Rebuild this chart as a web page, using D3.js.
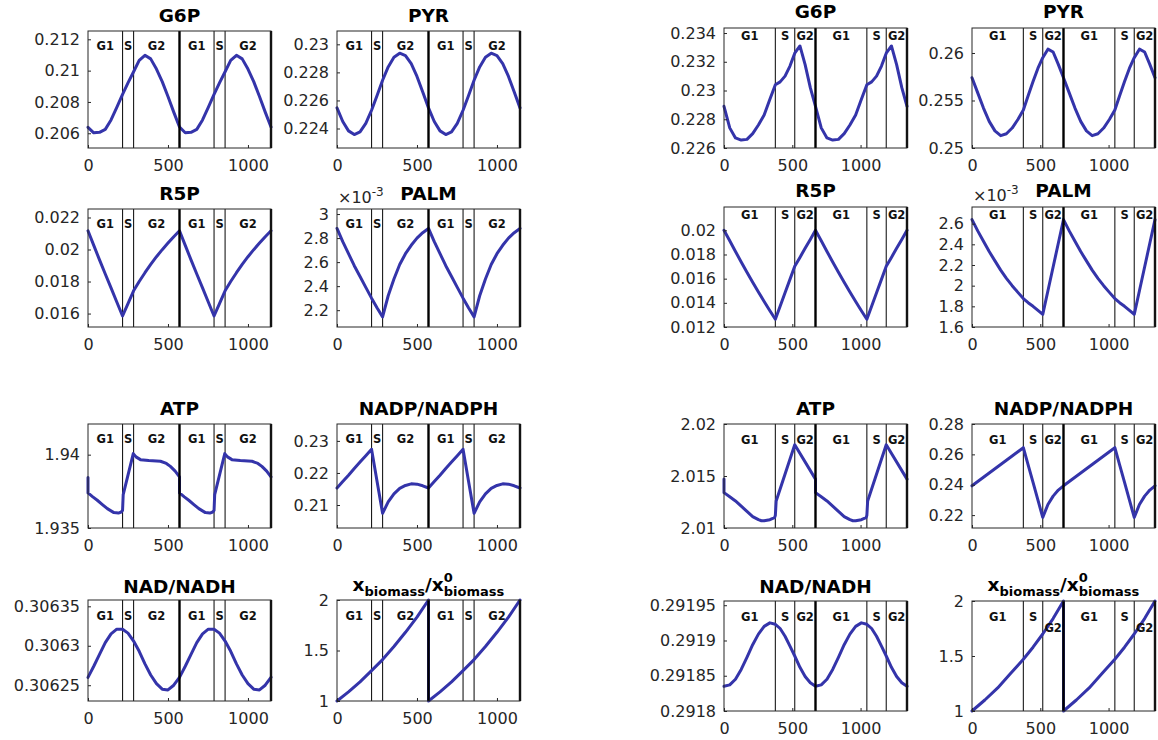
<!DOCTYPE html>
<html><head><meta charset="utf-8">
<script src="https://cdn.jsdelivr.net/npm/d3@7"></script>
<style>body{margin:0;background:#fff}svg{display:block}</style>
</head><body>
<svg id="chart" width="1158" height="740"></svg>
<script>
// ================= DATA =================
const xTicks = [0, 500, 1000];
const leftXMax = 1144, rightXMax = 1340;
const leftPhaseBounds = [0, 216, 285, 572, 788, 857, 1144];
const rightPhaseBounds = [0, 376, 518, 670, 1046, 1188, 1340];
const phaseLabels = ["G1", "S", "G2", "G1", "S", "G2"];
const leftCycleEnds = [572, 1144];
const rightCycleEnds = [670, 1340];

const tLeft = [0,36,72,108,144,180,216,250,285,320,356,392,428,464,500,536,572,608,644,680,716,752,788,822,857,892,928,964,1000,1036,1072,1108,1144];
const tRight = [0,42,84,126,168,210,252,294,336,376,411,447,483,518,556,594,632,670,712,754,796,838,880,922,964,1006,1046,1081,1117,1153,1188,1226,1264,1302,1340];

// left figure
const g6pL = [0.20638,0.20603,0.20606,0.20625,0.20685,0.20765,0.20849,0.20922,0.20993,0.21065,0.21098,0.21075,0.21010,0.20930,0.20835,0.20735,0.20640,
              0.20603,0.20606,0.20625,0.20685,0.20765,0.20849,0.20922,0.20993,0.21065,0.21098,0.21075,0.21010,0.20930,0.20835,0.20735,0.20640];
const pyrL = [0.22547,0.22450,0.22383,0.22357,0.22376,0.22436,0.22530,0.22634,0.22744,0.22839,0.22908,0.22937,0.22920,0.22862,0.22771,0.22660,0.22547,
              0.22450,0.22383,0.22357,0.22376,0.22436,0.22530,0.22634,0.22744,0.22839,0.22908,0.22937,0.22920,0.22862,0.22771,0.22660,0.22547];
const r5pL = [0.02117,0.02026,0.01935,0.01847,0.01760,0.01672,0.01585,0.01662,0.01742,0.01800,0.01855,0.01907,0.01955,0.01999,0.02040,0.02080,0.02117,
              0.02026,0.01935,0.01847,0.01760,0.01672,0.01585,0.01662,0.01742,0.01800,0.01855,0.01907,0.01955,0.01999,0.02040,0.02080,0.02117];
const palmL = [2.88,2.77,2.67,2.57,2.48,2.39,2.30,2.22,2.144,2.32,2.46,2.58,2.67,2.74,2.80,2.845,2.88,
               2.77,2.67,2.57,2.48,2.39,2.30,2.22,2.144,2.32,2.46,2.58,2.67,2.74,2.80,2.845,2.88]; // x10^-3
const atpLt = [0,0,30,58,90,121,162,190,208,216,220,283,300,328,380,453,490,515,545,572,
               572,602,630,662,693,734,762,780,788,792,855,872,900,952,1025,1062,1087,1117,1144];
const atpL = [1.93845,1.93739,1.93712,1.93689,1.93660,1.93632,1.93605,1.93602,1.93609,1.93620,1.93727,1.94007,1.93985,1.93966,1.93960,1.93955,1.93940,1.93920,1.93888,1.93849,
              1.93739,1.93712,1.93689,1.93660,1.93632,1.93605,1.93602,1.93609,1.93620,1.93727,1.94007,1.93985,1.93966,1.93960,1.93955,1.93940,1.93920,1.93888,1.93849];
const nadpL = [0.2153,0.2173,0.2193,0.2214,0.2234,0.2254,0.2274,0.2175,0.2074,0.2110,0.2135,0.2152,0.2161,0.2166,0.2165,0.2160,0.2153,
               0.2173,0.2193,0.2214,0.2234,0.2254,0.2274,0.2175,0.2074,0.2110,0.2135,0.2152,0.2161,0.2166,0.2165,0.2160,0.2153];
const nadL = [0.306260,0.306274,0.306289,0.306304,0.306315,0.306321,0.306321,0.306316,0.306306,0.306293,0.306277,0.306263,0.306252,0.306245,0.306244,0.306250,0.306260,
              0.306274,0.306289,0.306304,0.306315,0.306321,0.306321,0.306316,0.306306,0.306293,0.306277,0.306263,0.306252,0.306245,0.306244,0.306250,0.306260];
const bioLt = [0,72,144,216,285,356,428,500,572,572,644,716,788,857,928,1000,1072,1144];
const bioL = [1,1.09,1.19,1.30,1.41,1.54,1.68,1.83,2,1,1.09,1.19,1.30,1.41,1.54,1.68,1.83,2];

// right figure
const g6pR = [0.2289,0.2274,0.2267,0.22655,0.2266,0.2270,0.2276,0.2283,0.2294,0.2304,0.2306,0.2310,0.2317,0.2326,0.2331,0.2318,0.2302,0.2289,
              0.2274,0.2267,0.22655,0.2266,0.2270,0.2276,0.2283,0.2294,0.2304,0.2306,0.2310,0.2317,0.2326,0.2331,0.2318,0.2302,0.2289];
const pyrR = [0.2574,0.2558,0.2542,0.2528,0.2518,0.2513,0.2515,0.2521,0.2530,0.2540,0.2555,0.2570,0.2584,0.2595,0.2604,0.2601,0.2588,0.2574,
              0.2558,0.2542,0.2528,0.2518,0.2513,0.2515,0.2521,0.2530,0.2540,0.2555,0.2570,0.2584,0.2595,0.2604,0.2601,0.2588,0.2574];
const r5pR = [0.0200,0.01914,0.01825,0.01738,0.01653,0.01570,0.01489,0.01411,0.01335,0.01264,0.01372,0.01483,0.01594,0.01702,0.01776,0.01851,0.01925,0.0200,
              0.01914,0.01825,0.01738,0.01653,0.01570,0.01489,0.01411,0.01335,0.01264,0.01372,0.01483,0.01594,0.01702,0.01776,0.01851,0.01925,0.0200];
const palmR = [2.639,2.53,2.43,2.33,2.24,2.15,2.07,2.00,1.935,1.875,1.835,1.80,1.76,1.722,1.951,2.180,2.410,2.639,
               2.53,2.43,2.33,2.24,2.15,2.07,2.00,1.935,1.875,1.835,1.80,1.76,1.722,1.951,2.180,2.410,2.639]; // x10^-3
const atpRt = [0,0,42,84,126,168,210,252,274,294,336,370,376,382,518,670,
               670,712,754,796,838,880,922,944,964,1006,1040,1046,1052,1188,1340];
const atpR = [2.0147,2.0134,2.0130,2.0126,2.0121,2.0116,2.0111,2.0108,2.0107,2.0107,2.0108,2.0110,2.0112,2.0126,2.0180,2.0147,
              2.0134,2.0130,2.0126,2.0121,2.0116,2.0111,2.0108,2.0107,2.0107,2.0108,2.0110,2.0112,2.0126,2.0180,2.0147];
const nadpR = [0.2393,0.2421,0.2449,0.2477,0.2505,0.2533,0.2561,0.2589,0.2617,0.2644,0.2531,0.2415,0.2298,0.2185,0.2270,0.2325,0.2365,0.2393,
               0.2421,0.2449,0.2477,0.2505,0.2533,0.2561,0.2589,0.2617,0.2644,0.2531,0.2415,0.2298,0.2185,0.2270,0.2325,0.2365,0.2393];
const nadR = [0.291835,0.291837,0.291845,0.291859,0.291876,0.291894,0.291909,0.291920,0.291925,0.291923,0.291917,0.291906,0.291892,0.291878,0.291862,0.291849,0.291840,0.291835,
              0.291837,0.291845,0.291859,0.291876,0.291894,0.291909,0.291920,0.291925,0.291923,0.291917,0.291906,0.291892,0.291878,0.291862,0.291849,0.291840,0.291835];
const bioRt = [0,94,188,282,376,447,518,594,670,670,764,858,952,1046,1117,1188,1264,1340];
const bioR = [1,1.10,1.21,1.34,1.47,1.58,1.70,1.84,2,1,1.10,1.21,1.34,1.47,1.58,1.70,1.84,2];

// y axis domains and ticks
const yDomains = {
  g6pL:[0.20506,0.21253], pyrL:[0.22261,0.23095], r5pL:[0.01516,0.02253], palmL:[2.060,3.042],
  atpL:[1.935,1.94209], nadpL:[0.20283,0.23527], nadL:[0.30623,0.306358], bioL:[1,2],
  g6pR:[0.226,0.23435], pyrR:[0.25,0.26263], r5pR:[0.012,0.02193], palmR:[1.6,2.761],
  atpR:[2.01,2.02], nadpR:[0.2115,0.28], nadR:[0.2918,0.291956], bioR:[1,2]
};
const yTicks = {
  g6pL:[0.206,0.208,0.21,0.212], pyrL:[0.224,0.226,0.228,0.23], r5pL:[0.016,0.018,0.02,0.022], palmL:[2.2,2.4,2.6,2.8,3],
  atpL:[1.935,1.94], nadpL:[0.21,0.22,0.23], nadL:[0.30625,0.3063,0.30635], bioL:[1,1.5,2],
  g6pR:[0.226,0.228,0.23,0.232,0.234], pyrR:[0.25,0.255,0.26], r5pR:[0.012,0.014,0.016,0.018,0.02], palmR:[1.6,1.8,2,2.2,2.4,2.6],
  atpR:[2.01,2.015,2.02], nadpR:[0.22,0.24,0.26,0.28], nadR:[0.2918,0.29185,0.2919,0.29195], bioR:[1,1.5,2]
};

// ================= LAYOUT / STYLE =================
const FONT = "DejaVu Sans, Verdana, sans-serif";
const BLUE = "#3434aa";
const AX = "#262626";
const colsL = [{x0:88,x1:271},{x0:337,x1:520}];
const colsR = [{x0:724,x1:907},{x0:972,x1:1155}];
const rowsL = [{y0:31,y1:148,tb:22,ld:18.5},{y0:209,y1:327,tb:200,ld:19},{y0:424,y1:528,tb:415,ld:19},{y0:600,y1:701,tb:593,ld:19.5}];
const rowsR = [{y0:28,y1:148,tb:18,ld:11.5},{y0:207,y1:327,tb:197,ld:11.5},{y0:424,y1:528,tb:415,ld:20},{y0:601,y1:711,tb:593,ld:20}];

const zip = (t, v) => t.map((d, i) => [d, v[i]]);
const panels = [
  {key:"g6pL", title:"G6P", side:"L", r:0, c:0, pts:zip(tLeft,g6pL)},
  {key:"pyrL", title:"PYR", side:"L", r:0, c:1, pts:zip(tLeft,pyrL)},
  {key:"r5pL", title:"R5P", side:"L", r:1, c:0, pts:zip(tLeft,r5pL)},
  {key:"palmL", title:"PALM", side:"L", r:1, c:1, pts:zip(tLeft,palmL), exp:true},
  {key:"atpL", title:"ATP", side:"L", r:2, c:0, pts:zip(atpLt,atpL)},
  {key:"nadpL", title:"NADP/NADPH", side:"L", r:2, c:1, pts:zip(tLeft,nadpL)},
  {key:"nadL", title:"NAD/NADH", side:"L", r:3, c:0, pts:zip(tLeft,nadL)},
  {key:"bioL", title:"BIO", side:"L", r:3, c:1, pts:zip(bioLt,bioL)},
  {key:"g6pR", title:"G6P", side:"R", r:0, c:0, pts:zip(tRight,g6pR)},
  {key:"pyrR", title:"PYR", side:"R", r:0, c:1, pts:zip(tRight,pyrR)},
  {key:"r5pR", title:"R5P", side:"R", r:1, c:0, pts:zip(tRight,r5pR)},
  {key:"palmR", title:"PALM", side:"R", r:1, c:1, pts:zip(tRight,palmR), exp:true},
  {key:"atpR", title:"ATP", side:"R", r:2, c:0, pts:zip(atpRt,atpR)},
  {key:"nadpR", title:"NADP/NADPH", side:"R", r:2, c:1, pts:zip(tRight,nadpR)},
  {key:"nadR", title:"NAD/NADH", side:"R", r:3, c:0, pts:zip(tRight,nadR)},
  {key:"bioR", title:"BIO", side:"R", r:3, c:1, pts:zip(bioRt,bioR), g2Low:true}
];

const svg = d3.select("#chart");
svg.append("rect").attr("width",1158).attr("height",740).attr("fill","#fff");

panels.forEach(p => {
  const L = p.side === "L";
  const col = (L ? colsL : colsR)[p.c];
  const row = (L ? rowsL : rowsR)[p.r];
  const xMax = L ? leftXMax : rightXMax;
  const bounds = L ? leftPhaseBounds : rightPhaseBounds;
  const cyc = L ? leftCycleEnds : rightCycleEnds;
  const x = d3.scaleLinear().domain([0, xMax]).range([col.x0, col.x1]);
  const y = d3.scaleLinear().domain(yDomains[p.key]).range([row.y1, row.y0]);
  const g = svg.append("g");

  bounds.slice(1, -1).filter(b => !cyc.includes(b)).forEach(b => {
    g.append("line").attr("x1", x(b)).attr("x2", x(b)).attr("y1", row.y0).attr("y2", row.y1)
      .attr("stroke", "#1a1a1a").attr("stroke-width", 1.1);
  });
  g.append("path").datum(p.pts)
    .attr("d", d3.line().x(d => x(d[0])).y(d => y(d[1])))
    .attr("fill", "none").attr("stroke", BLUE).attr("stroke-width", 3)
    .attr("stroke-linejoin", "round").attr("stroke-linecap", "round");
  cyc.forEach(b => {
    g.append("line").attr("x1", x(b)).attr("x2", x(b)).attr("y1", row.y0).attr("y2", row.y1)
      .attr("stroke", "#000").attr("stroke-width", 2.4);
  });
  g.append("rect").attr("x", col.x0).attr("y", row.y0).attr("width", col.x1 - col.x0).attr("height", row.y1 - row.y0)
    .attr("fill", "none").attr("stroke", AX).attr("stroke-width", 1);

  const ya = g.append("g").attr("transform", `translate(${col.x0},0)`)
    .call(d3.axisLeft(y).tickValues(yTicks[p.key]).tickFormat(d3.format("~g")).tickSizeInner(-3).tickSizeOuter(0).tickPadding(8));
  const xa = g.append("g").attr("transform", `translate(0,${row.y1})`)
    .call(d3.axisBottom(x).tickValues(xTicks).tickFormat(d3.format("d")).tickSizeInner(-3).tickSizeOuter(0).tickPadding(11.5));
  [ya, xa].forEach(a => {
    a.select(".domain").remove();
    a.attr("font-family", FONT).attr("font-size", 16);
    a.selectAll("text").attr("fill", AX);
    a.selectAll("line").attr("stroke", AX);
  });

  for (let i = 0; i < bounds.length - 1; i++) {
    const lab = phaseLabels[i];
    const dy = (p.g2Low && lab === "G2") ? 31 : row.ld;
    g.append("text").attr("x", x((bounds[i] + bounds[i + 1]) / 2)).attr("y", row.y0 + dy)
      .attr("text-anchor", "middle").attr("font-family", FONT).attr("font-weight", "bold")
      .attr("font-size", 11.5).attr("fill", "#111").text(lab);
  }

  const cx = (col.x0 + col.x1) / 2;
  if (p.title !== "BIO") {
    g.append("text").attr("x", cx).attr("y", row.tb).attr("text-anchor", "middle")
      .attr("font-family", FONT).attr("font-weight", "bold").attr("font-size", 18.5).attr("fill", "#000").text(p.title);
  } else {
    const t = g.append("text").attr("x", 0).attr("y", row.tb - 2).attr("font-family", FONT).attr("font-weight", "bold").attr("fill", "#000");
    t.append("tspan").attr("font-size", 18.5).text("x");
    t.append("tspan").attr("font-size", 13).attr("dy", 5).text("biomass");
    t.append("tspan").attr("font-size", 18.5).attr("dy", -5).text("/x");
    t.append("tspan").attr("font-size", 13).attr("dy", -9).text("0");
    const pos = t.node().getStartPositionOfChar(10);
    t.append("tspan").attr("font-size", 13).attr("x", pos.x).attr("y", row.tb + 3).text("biomass");
    const bb = t.node().getBBox();
    t.attr("transform", `translate(${cx - bb.width / 2 - bb.x},0)`);
  }
  if (p.exp) {
    const e = g.append("text").attr("x", col.x0 + 1).attr("y", row.y0 - 6).attr("font-family", FONT).attr("fill", AX);
    e.append("tspan").attr("font-size", 16).text("\u00d710");
    e.append("tspan").attr("font-size", 12).attr("dy", -7).text("-3");
  }
});
</script>
</body></html>
